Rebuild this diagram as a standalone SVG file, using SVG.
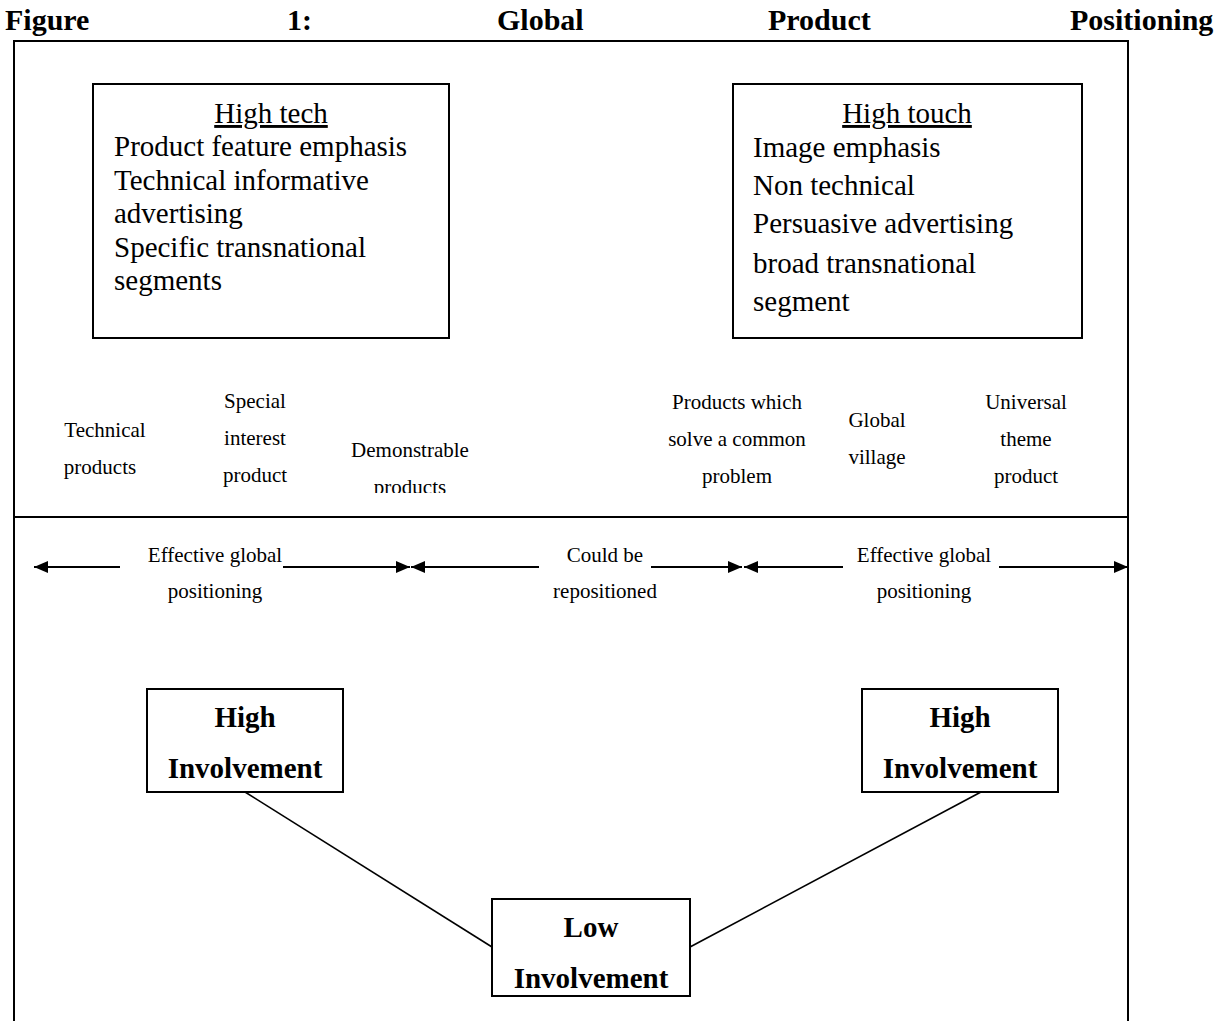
<svg xmlns="http://www.w3.org/2000/svg" width="1225" height="1021" viewBox="0 0 1225 1021">
<style>
text{font-family:"Liberation Serif","Times New Roman",serif;fill:#000}
.t{font-size:30px;font-weight:bold}
.b{font-size:29px}
.s{font-size:21px;text-anchor:middle}
.iv{font-size:29px;font-weight:bold;text-anchor:middle}
.box{fill:#fff;stroke:#000;stroke-width:2}
.ln{stroke:#000;stroke-width:2;fill:none}
.cn{stroke:#000;stroke-width:1.6;fill:none}
</style>
<defs>
<marker id="ah" markerWidth="14" markerHeight="12" refX="14" refY="6" orient="auto" markerUnits="userSpaceOnUse">
<path d="M0,0 L14,6 L0,12 Z" fill="#000"/>
</marker>
<clipPath id="clipDemo"><rect x="300" y="380" width="240" height="113"/></clipPath>
</defs>
<rect width="1225" height="1021" fill="#fff"/>
<g id="title">
<text class="t" x="5" y="30">Figure</text>
<text class="t" x="287" y="30">1:</text>
<text class="t" x="497" y="30">Global</text>
<text class="t" x="768" y="30">Product</text>
<text class="t" x="1070" y="30">Positioning</text>
</g>
<g id="frame">
<path class="ln" d="M14,1021 V41 H1128 V1021"/>
<line class="ln" x1="14" y1="517" x2="1128" y2="517"/>
</g>
<g id="high-tech">
<rect class="box" x="93" y="84" width="356" height="254"/>
<text class="b" x="271" y="123" text-anchor="middle" text-decoration="underline">High tech</text>
<text class="b" x="114" y="156">Product feature emphasis</text>
<text class="b" x="114" y="190">Technical informative</text>
<text class="b" x="114" y="223">advertising</text>
<text class="b" x="114" y="257">Specific transnational</text>
<text class="b" x="114" y="290">segments</text>
</g>
<g id="high-touch">
<rect class="box" x="733" y="84" width="349" height="254"/>
<text class="b" x="907" y="123" text-anchor="middle" text-decoration="underline">High touch</text>
<text class="b" x="753" y="157">Image emphasis</text>
<text class="b" x="753" y="195">Non technical</text>
<text class="b" x="753" y="233">Persuasive advertising</text>
<text class="b" x="753" y="273">broad transnational</text>
<text class="b" x="753" y="311">segment</text>
</g>
<g id="product-labels">
<text class="s" x="105" y="437">Technical</text>
<text class="s" x="100" y="474">products</text>
<text class="s" x="255" y="408">Special</text>
<text class="s" x="255" y="445">interest</text>
<text class="s" x="255" y="482">product</text>
<g clip-path="url(#clipDemo)">
<text class="s" x="410" y="457">Demonstrable</text>
<text class="s" x="410" y="494">products</text>
</g>
<text class="s" x="737" y="409">Products which</text>
<text class="s" x="737" y="446">solve a common</text>
<text class="s" x="737" y="483">problem</text>
<text class="s" x="877" y="427">Global</text>
<text class="s" x="877" y="464">village</text>
<text class="s" x="1026" y="409">Universal</text>
<text class="s" x="1026" y="446">theme</text>
<text class="s" x="1026" y="483">product</text>
</g>
<g id="connectors">
<line class="ln" x1="120" y1="567" x2="34" y2="567" marker-end="url(#ah)"/>
<line class="ln" x1="283" y1="567" x2="410" y2="567" marker-end="url(#ah)"/>
<line class="ln" x1="539" y1="567" x2="411" y2="567" marker-end="url(#ah)"/>
<line class="ln" x1="651" y1="567" x2="742" y2="567" marker-end="url(#ah)"/>
<line class="ln" x1="843" y1="567" x2="744" y2="567" marker-end="url(#ah)"/>
<line class="ln" x1="999" y1="567" x2="1128" y2="567" marker-end="url(#ah)"/>
<line class="cn" x1="245" y1="792" x2="492" y2="947"/>
<line class="cn" x1="981" y1="792" x2="690" y2="947"/>
</g>
<g id="arrow-labels">
<text class="s" x="215" y="562">Effective global</text>
<text class="s" x="215" y="598">positioning</text>
<text class="s" x="605" y="562">Could be</text>
<text class="s" x="605" y="598">repositioned</text>
<text class="s" x="924" y="562">Effective global</text>
<text class="s" x="924" y="598">positioning</text>
</g>
<g id="high-involvement-left">
<rect class="box" x="147" y="689" width="196" height="103"/>
<text class="iv" x="245" y="727">High</text>
<text class="iv" x="245" y="778">Involvement</text>
</g>
<g id="high-involvement-right">
<rect class="box" x="862" y="689" width="196" height="103"/>
<text class="iv" x="960" y="727">High</text>
<text class="iv" x="960" y="778">Involvement</text>
</g>
<g id="low-involvement">
<rect class="box" x="492" y="899" width="198" height="97"/>
<text class="iv" x="591" y="937">Low</text>
<text class="iv" x="591" y="988">Involvement</text>
</g>
</svg>
